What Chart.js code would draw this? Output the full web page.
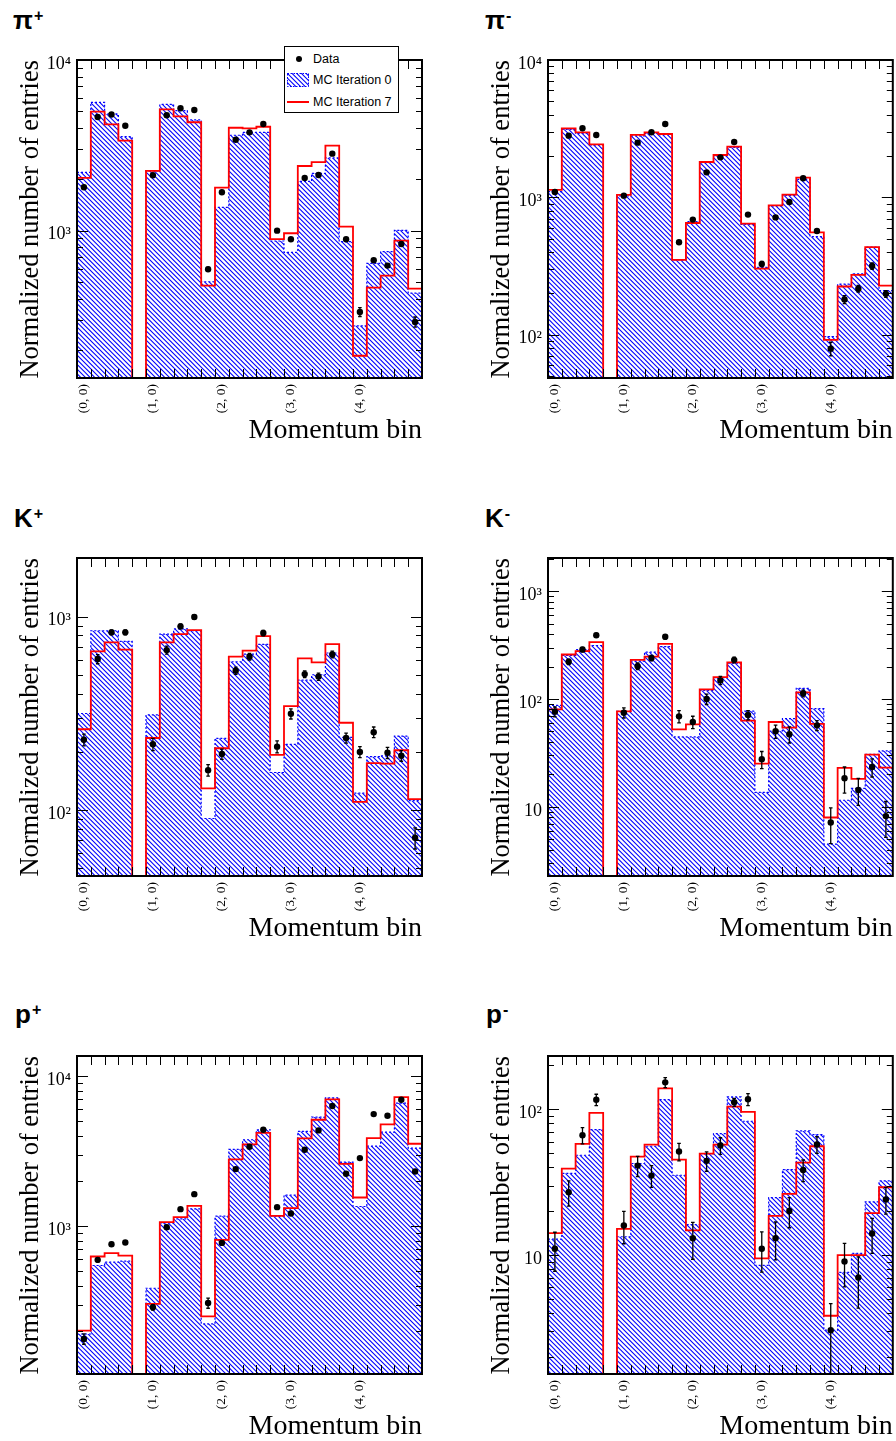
<!DOCTYPE html>
<html><head><meta charset="utf-8">
<script src="https://cdn.jsdelivr.net/npm/chart.js@4.4.1/dist/chart.umd.min.js"></script>
<style>
html,body{margin:0;padding:0;background:#fff;}
body{width:896px;height:1441px;position:relative;overflow:hidden;}
canvas{position:absolute;}
.ptitle{position:absolute;font:bold 26px 'Liberation Sans',Arial,sans-serif;line-height:26px;color:#000;white-space:nowrap;}
.ptitle sup{font-size:16px;vertical-align:baseline;position:relative;top:-8px;margin-left:1px;}
#legend{position:absolute;left:284px;top:46px;width:113px;height:65px;border:1px solid #000;background:#fff;font:12.5px 'Liberation Sans',Arial,sans-serif;color:#000;}
#legend .t{position:absolute;left:28px;line-height:16px;white-space:nowrap;}
#legend .dot{position:absolute;left:11px;top:8.5px;width:6px;height:6px;border-radius:50%;background:#000;}
#legend canvas{left:2px;top:26px;}
#legend .red{position:absolute;left:2px;top:54px;width:22px;height:2px;background:#ff0000;}
</style></head><body>
<div class="ptitle" style="left:13px;top:7px">π<sup>+</sup></div>
<div class="ptitle" style="left:485px;top:7px">π<sup>-</sup></div>
<div class="ptitle" style="left:14px;top:505px">K<sup>+</sup></div>
<div class="ptitle" style="left:485px;top:505px">K<sup>-</sup></div>
<div class="ptitle" style="left:15px;top:1001px">p<sup>+</sup></div>
<div class="ptitle" style="left:486px;top:1001px">p<sup>-</sup></div>
<script>
// ---- categories / tick labels ----
const tickLabels = ['(0, 0)', '(1, 0)', '(2, 0)', '(3, 0)', '(4, 0)'];
const tickBins = [0, 5, 10, 15, 20];
const nBins = 25;

// ---- pi+ ----
const piPlusMC0 = [2198, 5650, 4830, 3556, 0, 2239, 5497, 5047, 4457, 502, 1371, 3623, 3767, 3767, 870, 747, 1946, 2167, 2667, 862, 277, 644, 754, 1005, 430];
const piPlusMC7 = [2037, 4977, 4200, 3366, 0, 2239, 5140, 4677, 4318, 476, 1786, 4009, 3980, 4064, 891, 966, 2393, 2518, 3148, 1055, 185, 464, 545, 874, 457];
const piPlusData = [1795, 4634, 4790, 4121, null, 2113, 4744, 5211, 5094, 594, 1678, 3412, 3767, 4218, 1000, 891, 2037, 2120, 2826, 891, 334, 671, 624, 836, 292];
const piPlusErr = [25, 40, 40, 40, null, 30, 45, 45, 45, 15, 25, 40, 40, 40, 20, 20, 30, 30, 35, 20, 20, 15, 15, 20, 20];

// ---- pi- ----
const piMinusMC0 = [1100, 3127, 2924, 2404, 0, 1023, 2797, 2924, 2859, 350, 665, 1786, 2010, 2311, 636, 309, 865, 1034, 1352, 517, 96.7, 233, 277, 433, 209];
const piMinusMC7 = [1131, 3180, 2974, 2432, 0, 1040, 2845, 2974, 2891, 350, 650, 1807, 2032, 2338, 643, 302, 874, 1046, 1390, 556, 91.5, 224, 272, 433, 227];
const piMinusData = [1094, 2812, 3180, 2845, null, 1028, 2500, 2974, 3419, 470, 688, 1520, 1955, 2530, 748, 327, 714, 925, 1375, 569, 79, 180, 216, 316, 198];
const piMinusErr = [15, 30, 30, 30, null, 15, 30, 30, 35, 12, 15, 25, 25, 30, 15, 14, 15, 18, 20, 15, 9, 12, 12, 17, 11];

// ---- K+ ----
const kPlusMC0 = [316, 846, 846, 746, 0, 311, 813, 864, 846, 90.6, 235, 585, 641, 720, 156.6, 219, 470, 501, 649, 238, 122.5, 189, 191, 241.5, 112];
const kPlusMC7 = [262, 662, 737, 675, 0, 236, 737, 813, 853, 129.5, 209, 621, 667, 794, 193, 345, 609, 581, 722, 283, 110.5, 175, 174, 204, 114];
const kPlusData = [231, 604, 830, 830, null, 219, 672, 891, 996, 161, 195, 526, 621, 823, 213, 315, 505, 490, 638, 236, 200, 253, 198, 191, 72];
const kPlusErr = [16, 33, 25, 25, null, 16, 32, 27, 28, 11, 12, 23, 25, 26, 15, 19, 20, 21, 25, 14, 13, 16, 13, 12, 9];

// ---- K- ----
const kMinusMC0 = [87.3, 254, 288, 314, 0, 76.9, 225, 272, 307, 44.5, 44.5, 120.3, 157.6, 215, 77.4, 13.6, 50.5, 65.8, 125.6, 81.4, 4.5, 11.5, 14.8, 30.6, 33];
const kMinusMC7 = [80.2, 259, 278, 337, 0, 76.9, 231, 248, 325, 52.4, 58.3, 122.9, 160, 218.6, 63, 25.2, 61.2, 54.3, 115.3, 58.7, 7.96, 23, 18.2, 30.5, 23.1];
const kMinusData = [76.4, 222, 288, 391, null, 74.7, 202, 240, 378, 69.1, 61.2, 100, 149, 231, 71.1, 27.6, 50.2, 47.1, 112.9, 57, 7.16, 18.4, 14.3, 23.4, 8.2];
const kMinusErr = [8, 13, 14, 16, null, 8, 14, 14, 18, 9, 8, 11, 13, 14, 7, 5, 7, 8, 8, 6, 2.6, 5, 4, 4.5, 3];

// ---- p+ ----
const pPlusMC0 = [191.4, 547, 575.4, 584.5, 0, 386, 1052, 1119, 1305, 223.4, 1166, 3243, 3763, 4386, 1166, 1609, 4276, 5330, 7171, 2671, 1352, 3415, 4233, 6607, 3311];
const pPlusMC7 = [201.6, 628, 660.7, 637.4, 0, 303.6, 1063, 1148, 1366, 251, 811, 2783, 3503, 4188, 1172, 1318, 3840, 5117, 6989, 2604, 1552, 3861, 4762, 7244, 3540];
const pPlusData = [177.5, 596.6, 758.6, 778, null, 288.4, 984.7, 1298, 1634, 308, 774, 2399, 3380, 4386, 1339, 1215, 3228, 4346, 6310, 2233, 2840, 5580, 5439, 6950, 2314];
const pPlusErr = [14, 20, 22, 22, null, 12, 28, 32, 36, 24, 20, 40, 50, 60, 30, 28, 50, 60, 75, 40, 50, 70, 70, 80, 45];

// ---- p- ----
const pMinusMC0 = [12.87, 36.3, 48.4, 72.6, 0, 13.36, 42.5, 55.8, 116.5, 35.3, 16.2, 49.7, 68.1, 121.5, 82.8, 8.5, 24.8, 38.6, 71.1, 67.1, 3.06, 7.61, 10.27, 23.2, 32.3];
const pMinusMC7 = [14.15, 39.2, 57.9, 94.4, 0, 15.15, 47.4, 57.3, 139.3, 45.2, 14.8, 49.7, 57.3, 104.3, 95.9, 9.5, 18.6, 26.3, 43.1, 55.8, 3.84, 10, 10, 19.4, 29.2];
const pMinusData = [11.05, 27.0, 66.4, 116.4, null, 15.97, 41.1, 35.1, 153, 51.3, 13.07, 44.3, 56.4, 111.7, 117.1, 11.05, 13.07, 20.1, 38.4, 57.3, 3.05, 9.05, 7.03, 14.07, 24.1];
const pMinusErr = [3.3, 5.3, 8.5, 10.4, null, 4, 6.5, 6, 12, 7, 3.7, 6.7, 7.4, 7, 11, 3.4, 3.8, 4.7, 6.5, 7.5, 1.6, 3, 2.7, 3.8, 5];

// ---- axis ranges ----
const yRanges = {
  piPlus: [137, 10000], piMinus: [48.3, 10000],
  kPlus: [45.7, 2010], kMinus: [2.28, 2036],
  pPlus: [103.6, 13600], pMinus: [1.53, 232]
};

const SERIF = "'Liberation Serif','Times New Roman',serif";
const SUP = {'0':'⁰','1':'¹','2':'²','3':'³','4':'⁴','5':'⁵','6':'⁶','7':'⁷','8':'⁸','9':'⁹','-':'⁻'};
function decadeLabel(v) {
  const l = Math.log10(v), r = Math.round(l);
  if (Math.abs(l - r) > 1e-6) return '';
  if (r === 1) return '10';
  return '10' + String(r).split('').map(c => SUP[c]).join('');
}

function makeHatch() {
  const c = document.createElement('canvas');
  c.width = 14; c.height = 14;
  const g = c.getContext('2d');
  g.strokeStyle = 'rgb(0,0,255)';
  g.lineWidth = 1.1;
  g.beginPath();
  for (const k of [-3, -2, -1, 0, 1, 2, 3]) {
    const off = k * 14 / 3;
    g.moveTo(-2, -2 + off); g.lineTo(16, 16 + off);
  }
  g.stroke();
  return g.createPattern(c, 'repeat');
}
const hatch = makeHatch();

const frameTicks = {
  id: 'frameTicks',
  afterDatasetsDraw(chart) {
    const {ctx, chartArea: a, scales: {x, y}} = chart;
    ctx.save();
    ctx.strokeStyle = '#000';
    ctx.lineWidth = 1;
    ctx.beginPath();
    for (let b = 1; b < nBins; b++) {
      const px = Math.round(x.getPixelForValue(b)) + 0.5;
      ctx.moveTo(px, a.bottom); ctx.lineTo(px, a.bottom - 9);
      ctx.moveTo(px, a.top); ctx.lineTo(px, a.top + 9);
    }
    const lo = Math.floor(Math.log10(y.min)), hi = Math.ceil(Math.log10(y.max));
    for (let e = lo; e <= hi; e++) {
      for (let m = 1; m <= 9; m++) {
        const v = m * Math.pow(10, e);
        if (v < y.min || v > y.max) continue;
        const py = Math.round(y.getPixelForValue(v)) + 0.5;
        const len = m === 1 ? 11 : 6;
        ctx.moveTo(a.left, py); ctx.lineTo(a.left + len, py);
        ctx.moveTo(a.right, py); ctx.lineTo(a.right - len, py);
      }
    }
    ctx.stroke();
    ctx.lineWidth = 2;
    ctx.strokeRect(a.left, a.top, a.right - a.left, a.bottom - a.top);
    ctx.restore();
  }
};

const errorBars = {
  id: 'errorBars',
  afterDatasetsDraw(chart) {
    const {ctx, chartArea: a, scales: {y}} = chart;
    const ds = chart.data.datasets[0];
    const meta = chart.getDatasetMeta(0);
    ctx.save();
    ctx.beginPath();
    ctx.rect(a.left, a.top, a.right - a.left, a.bottom - a.top);
    ctx.clip();
    ctx.strokeStyle = '#000';
    ctx.lineWidth = 1.3;
    ctx.beginPath();
    meta.data.forEach((pt, i) => {
      const d = ds.data[i];
      const hiV = d.y + d.err, loV = d.y - d.err;
      const top = y.getPixelForValue(hiV);
      const bot = loV > y.min ? y.getPixelForValue(loV) : a.bottom;
      ctx.moveTo(pt.x, top); ctx.lineTo(pt.x, bot);
      ctx.moveTo(pt.x - 1.8, top); ctx.lineTo(pt.x + 1.8, top);
      if (loV > y.min) { ctx.moveTo(pt.x - 1.8, bot); ctx.lineTo(pt.x + 1.8, bot); }
    });
    ctx.stroke();
    ctx.restore();
  }
};

function makePanel(p) {
  const W = p.w, H = 410;
  const canvas = document.createElement('canvas');
  canvas.width = W; canvas.height = H;
  canvas.style.left = p.left + 'px'; canvas.style.top = p.top + 'px';
  canvas.style.width = W + 'px'; canvas.style.height = H + 'px';
  document.body.appendChild(canvas);
  const [yMin, yMax] = p.range;
  // empty bins are drawn at the frame floor, as ROOT does
  const steps = arr => {
    const pts = arr.map((v, i) => ({x: i, y: Math.max(v, yMin)}));
    pts.push({x: arr.length, y: Math.max(arr[arr.length - 1], yMin)});
    return pts;
  };
  const dataPts = [];
  p.data.forEach((v, i) => { if (v != null) dataPts.push({x: i + 0.5, y: v, err: p.err[i]}); });
  new Chart(canvas, {
    type: 'line',
    data: {
      datasets: [
        {label: 'Data', data: dataPts, showLine: false, pointRadius: 3.2, pointHoverRadius: 3.2,
         pointBackgroundColor: '#000', pointBorderColor: '#000', pointBorderWidth: 0},
        {label: 'MC Iteration 7', data: steps(p.mc7), stepped: 'before', borderColor: '#ff0000',
         borderWidth: 1.8, pointRadius: 0, fill: false},
        {label: 'MC Iteration 0', data: steps(p.mc0), stepped: 'before', borderColor: '#0000ff',
         borderWidth: 1.2, borderDash: [2, 2], pointRadius: 0, fill: 'start', backgroundColor: hatch}
      ]
    },
    options: {
      responsive: false, animation: false, devicePixelRatio: 1,
      layout: {padding: {left: 0, top: 20, right: W - p.cr, bottom: 2}},
      plugins: {legend: {display: false}, tooltip: {enabled: false}, title: {display: false}},
      scales: {
        x: {
          type: 'linear', min: 0, max: nBins,
          grid: {display: false, drawTicks: false}, border: {display: false},
          afterFit: s => { s.height = 70; },
          afterBuildTicks: s => { s.ticks = tickBins.map(b => ({value: b + 0.5})); },
          ticks: {autoSkip: false, minRotation: 90, maxRotation: 90, padding: 6, color: '#000',
                  font: {family: SERIF, size: 13.5}, callback: (v, i) => tickLabels[i]},
          title: {display: true, text: 'Momentum bin', align: 'end', color: '#000',
                  font: {family: SERIF, size: 28}, padding: {top: 0, bottom: 1}}
        },
        y: {
          type: 'logarithmic', min: yMin, max: yMax,
          grid: {display: false, drawTicks: false}, border: {display: false},
          afterFit: s => { s.width = p.cl; },
          ticks: {autoSkip: false, padding: 6, labelOffset: 4, color: '#000',
                  font: {family: SERIF, size: 18}, callback: v => decadeLabel(v)},
          title: {display: true, text: 'Normalized number of entries', align: 'end', color: '#000',
                  font: {family: SERIF, size: 26.5}, padding: {top: p.cl - 62, bottom: 0}}
        }
      }
    },
    plugins: [frameTicks, errorBars]
  });
}

const L = {left: 0, w: 430, cl: 77, cr: 422}, R = {left: 470, w: 426, cl: 78, cr: 423};
makePanel({...L, top: 40, range: yRanges.piPlus, mc0: piPlusMC0, mc7: piPlusMC7, data: piPlusData, err: piPlusErr});
makePanel({...R, top: 40, range: yRanges.piMinus, mc0: piMinusMC0, mc7: piMinusMC7, data: piMinusData, err: piMinusErr});
makePanel({...L, top: 538, range: yRanges.kPlus, mc0: kPlusMC0, mc7: kPlusMC7, data: kPlusData, err: kPlusErr});
makePanel({...R, top: 538, range: yRanges.kMinus, mc0: kMinusMC0, mc7: kMinusMC7, data: kMinusData, err: kMinusErr});
makePanel({...L, top: 1036, range: yRanges.pPlus, mc0: pPlusMC0, mc7: pPlusMC7, data: pPlusData, err: pPlusErr});
makePanel({...R, top: 1036, range: yRanges.pMinus, mc0: pMinusMC0, mc7: pMinusMC7, data: pMinusData, err: pMinusErr});
</script>
<div id="legend">
  <div class="dot"></div><div class="t" style="top:4px">Data</div>
  <canvas id="legHatch" width="22" height="14"></canvas><div class="t" style="top:25px">MC Iteration 0</div>
  <div class="red"></div><div class="t" style="top:47px">MC Iteration 7</div>
</div>
<script>
(function () {
  const c = document.getElementById('legHatch');
  const g = c.getContext('2d');
  g.fillStyle = hatch;
  g.fillRect(0, 0, 22, 14);
  g.strokeStyle = '#0000ff';
  g.lineWidth = 1;
  g.setLineDash([1.5, 1.5]);
  g.strokeRect(0.5, 0.5, 21, 13);
})();
</script>
</body></html>
